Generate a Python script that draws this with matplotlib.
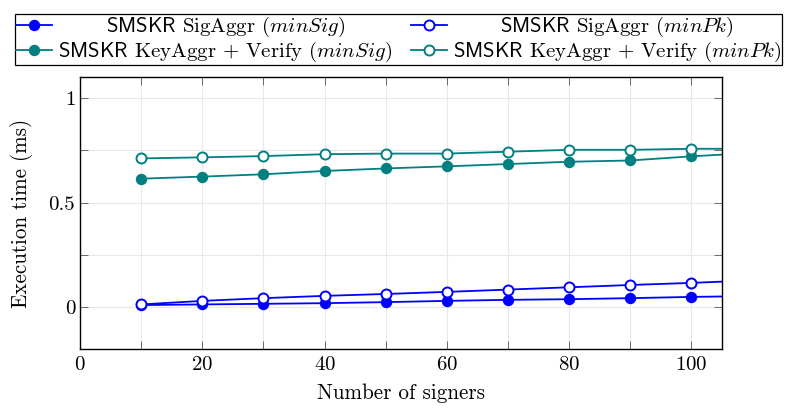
import matplotlib
matplotlib.use("Agg")
import matplotlib.pyplot as plt
from matplotlib.ticker import MultipleLocator

plt.rcParams["font.family"] = "cmr10"
plt.rcParams["mathtext.fontset"] = "cm"
plt.rcParams["axes.formatter.use_mathtext"] = True

# número de signatários (o último ponto fica fora do eixo, como no original)
signers = [10, 20, 30, 40, 50, 60, 70, 80, 90, 100, 110]

sig_minsig = [0.010, 0.013, 0.016, 0.019, 0.024, 0.030, 0.035, 0.038, 0.043, 0.049, 0.053]
sig_minpk = [0.013, 0.030, 0.043, 0.054, 0.063, 0.073, 0.084, 0.095, 0.106, 0.116, 0.128]
key_minsig = [0.614, 0.624, 0.635, 0.651, 0.663, 0.673, 0.684, 0.695, 0.701, 0.721, 0.737]
key_minpk = [0.711, 0.716, 0.722, 0.731, 0.734, 0.734, 0.743, 0.752, 0.752, 0.757, 0.757]

BLUE = "#0000ff"
TEAL = "#008080"

fig = plt.figure(figsize=(7.9, 4.09), dpi=100)
ax = fig.add_axes([0.1013, 0.1467, 0.8127, 0.665])

kw = dict(lw=1.3, ms=7.2, clip_on=True)
l1, = ax.plot(signers, sig_minsig, "-o", color=BLUE, **kw)
l2, = ax.plot(signers, sig_minpk, "-o", color=BLUE, mfc="white", mew=1.4, **kw)
l3, = ax.plot(signers, key_minsig, "-o", color=TEAL, **kw)
l4, = ax.plot(signers, key_minpk, "-o", color=TEAL, mfc="white", mew=1.4, **kw)

ax.set_xlim(0, 105)
ax.set_ylim(-0.2, 1.1)
ax.xaxis.set_major_locator(MultipleLocator(20))
ax.xaxis.set_minor_locator(MultipleLocator(10))
ax.yaxis.set_major_locator(MultipleLocator(0.5))
ax.yaxis.set_minor_locator(MultipleLocator(0.25))
ax.yaxis.set_major_formatter(plt.FuncFormatter(lambda v, p: f"{v:g}"))
ax.tick_params(which="both", direction="in", top=True, right=True,
               labelsize=15, length=5.5, width=0.6, color="#555555")
ax.tick_params(axis="x", pad=5)
ax.grid(which="both", color="#e8e8e8", lw=0.8)
ax.set_axisbelow(True)
for s in ax.spines.values():
    s.set_linewidth(1.0)

ax.set_xlabel("Number of signers", fontsize=15.2)
ax.set_ylabel("Execution time (ms)", fontsize=15.2)
ax.xaxis.set_label_coords(0.5, -0.125)
ax.yaxis.set_label_coords(-0.074, 0.5)

# ordem coluna a coluna -> linhas iguais ao original
handles = [l1, l3, l2, l4]
labels = [r"$\mathsf{SMSKR}$ SigAggr ($\mathit{minSig}$)",
          r"$\mathsf{SMSKR}$ KeyAggr + Verify ($\mathit{minSig}$)",
          r"$\mathsf{SMSKR}$ SigAggr ($\mathit{minPk}$)",
          r"$\mathsf{SMSKR}$ KeyAggr + Verify ($\mathit{minPk}$)"]
leg = fig.legend(handles, labels, loc="upper center", bbox_to_anchor=(0.505, 0.992), ncol=2,
                 fontsize=15, frameon=True, fancybox=False, edgecolor="black",
                 framealpha=1, handlelength=1.7, columnspacing=0.9,
                 labelspacing=0.05, borderpad=0.05, handletextpad=0.3)
leg.get_frame().set_linewidth(0.9)

# centraliza os textos curtos dentro da coluna
fig.canvas.draw()
r = fig.canvas.get_renderer()
texts = leg.get_texts()
for short, long_ in [(0, 1), (2, 3)]:
    w_s = texts[short].get_window_extent(r).width
    w_l = texts[long_].get_window_extent(r).width
    texts[short].set_x((w_l - w_s) / 2)

plt.savefig("out.png", dpi=100)
